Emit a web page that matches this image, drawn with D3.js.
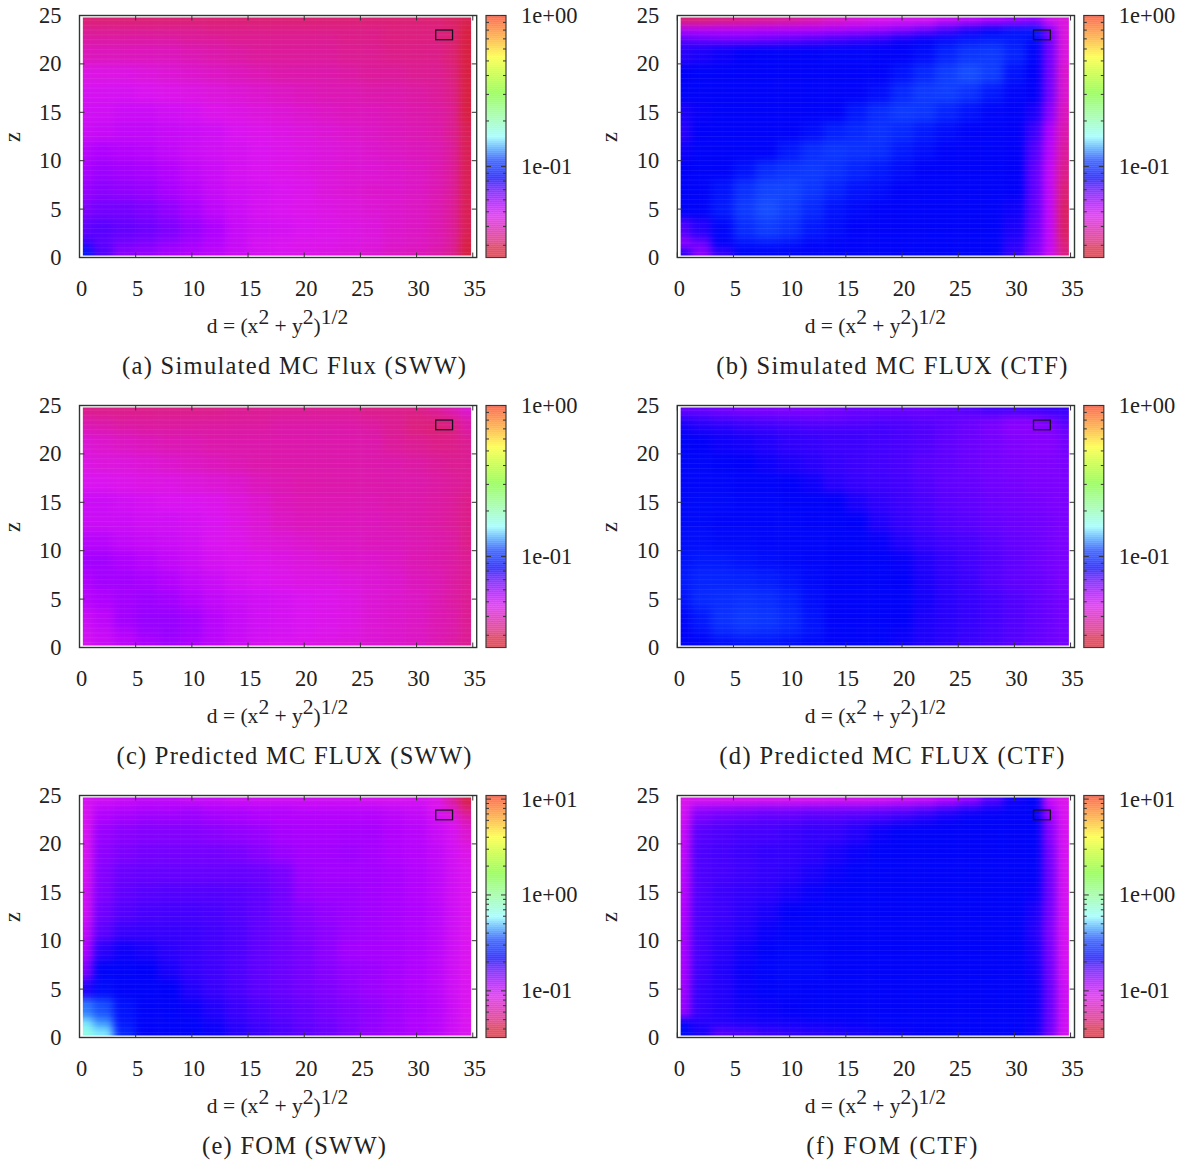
<!DOCTYPE html>
<html>
<head>
<meta charset="utf-8">
<script src="https://d3js.org/d3.v7.min.js"></script>
<style>
  html, body { margin: 0; background: #fff; }
  text { font-family: "Liberation Serif", serif; fill: #222; }
</style>
</head>
<body>
<div id="chart"></div>
<script>
// Cell edges shared by all panels, d goes left to right, z goes top to bottom
const dEdges = [0.3, 1.2, 3, 5, 7, 9, 11, 13, 15, 17, 19, 21, 23, 25, 27, 29, 31, 32.5, 33.8, 34.85];
const zEdges = [24.8, 24, 23, 22, 20, 18, 16, 14, 12, 10, 8, 6, 4, 2, 1, 0.2];

const fluxSimSww = [
  [32,32,32,32,32,32,32,32,32,32,32,32,32,32,32,32,32,31,30],
  [35,35,35,35,35,35,34,34,34,34,34,34,34,34,33,33,33,32,29],
  [37,37,37,37,37,36,36,35,35,35,35,35,34,34,33,33,33,32,29],
  [40,40,40,40,40,39,38,37,36,36,36,36,35,35,34,34,34,32,29],
  [45,45,45,44,43,42,41,40,39,38,38,38,37,36,36,35,35,33,29],
  [48,48,48,47,46,45,44,43,42,41,40,39,39,38,38,37,36,34,29],
  [49,49,50,50,49,48,46,45,44,43,42,41,40,40,39,38,37,35,29],
  [50,51,52,52,51,50,49,47,46,45,44,43,42,41,40,39,38,35,30],
  [54,56,55,54,52,50,49,48,47,46,45,44,43,42,41,40,39,36,30],
  [57,59,58,57,55,52,50,48,47,46,45,44,43,43,42,41,39,36,30],
  [60,62,61,60,57,54,51,49,48,47,46,44,43,42,42,41,39,36,30],
  [64,66,66,64,61,57,53,50,48,47,46,45,44,43,42,41,39,36,30],
  [70,71,69,67,64,60,56,51,49,48,47,46,45,44,42,41,39,36,30],
  [76,70,66,64,61,58,55,51,48,47,46,46,45,44,42,41,39,36,29],
  [92,72,62,60,57,55,53,50,48,47,46,45,44,43,41,40,38,35,29]
];
const fluxSimCtf = [
  [32,32,33,34,35,36,38,41,44,46,47,47,50,52,55,58,60,48,44],
  [55,55,55,55,56,56,56,57,58,60,63,68,74,80,85,90,92,64,44],
  [70,68,66,66,68,70,72,74,76,78,82,85,88,92,94,92,88,66,44],
  [78,80,82,84,85,85,85,86,86,85,85,88,96,104,106,96,86,66,44],
  [84,85,85,85,85,85,85,85,85,85,90,98,108,112,108,90,84,66,42],
  [85,85,85,85,85,85,85,85,85,88,98,106,108,102,92,86,84,66,42],
  [80,83,85,85,85,85,85,85,92,100,106,104,96,90,86,85,80,62,40],
  [78,84,85,85,85,85,88,94,98,102,98,92,88,85,85,84,75,56,38],
  [82,85,85,85,85,92,100,104,102,100,92,88,85,85,85,84,72,54,36],
  [84,85,85,90,100,104,106,102,96,92,88,85,85,85,85,84,70,52,34],
  [85,85,90,102,110,110,104,96,90,88,85,85,85,85,85,84,70,52,32],
  [85,85,92,106,112,108,98,90,87,85,85,85,85,85,85,82,70,52,31],
  [72,78,86,100,108,102,92,88,85,85,85,85,85,85,85,80,68,52,31],
  [60,68,84,90,92,90,86,85,85,85,85,85,85,85,85,78,66,52,32],
  [78,62,76,85,85,85,85,85,85,85,85,85,85,85,85,76,64,50,33]
];
const fluxPredSww = [
  [34,34,34,34,34,34,34,35,35,35,35,35,35,34,34,34,36,39,43],
  [38,37,36,36,36,36,36,36,36,37,37,37,37,36,35,33,33,34,38],
  [40,39,38,37,37,37,37,37,37,38,38,38,38,37,35,33,32,33,37],
  [43,42,41,40,39,39,38,38,38,38,38,38,38,38,36,35,34,34,35],
  [45,44,44,43,42,41,40,39,38,38,38,38,38,38,38,37,36,35,35],
  [47,47,46,45,45,44,43,42,40,39,38,38,38,38,38,38,37,36,35],
  [50,50,49,48,47,47,46,44,42,40,39,39,39,39,38,38,37,36,34],
  [50,50,50,49,49,48,47,45,43,41,40,40,40,40,39,38,37,36,34],
  [54,54,52,51,50,49,47,46,44,43,42,41,41,40,40,39,38,37,34],
  [58,58,56,54,52,50,48,47,46,45,44,43,42,42,41,39,38,37,35],
  [56,58,58,57,55,52,50,48,47,46,45,45,44,43,42,40,39,37,35],
  [54,56,58,59,58,55,52,50,49,48,47,46,45,43,42,41,39,37,35],
  [50,53,58,60,60,58,54,51,49,48,47,46,45,43,42,41,39,38,35],
  [49,51,55,59,60,58,54,51,49,48,47,46,45,43,42,41,39,38,35],
  [48,50,53,56,58,56,53,50,48,47,46,45,44,43,42,41,39,37,35]
];
const fluxPredCtf = [
  [68,68,66,64,64,64,64,66,68,68,68,68,70,72,74,74,75,76,76],
  [78,76,74,73,72,71,70,70,71,72,72,71,70,68,66,63,63,66,72],
  [82,80,79,77,76,75,74,74,74,74,73,72,70,68,65,62,62,63,68],
  [85,84,82,81,79,77,76,75,75,74,73,72,70,68,66,64,63,63,66],
  [86,86,85,84,82,80,78,76,75,74,73,71,70,68,66,65,64,64,65],
  [86,86,86,85,85,84,82,78,76,75,74,72,70,69,67,66,65,65,65],
  [87,87,87,86,86,85,85,84,80,77,75,73,71,70,68,67,66,65,65],
  [87,87,86,86,86,86,85,85,84,79,76,74,72,71,69,68,67,66,65],
  [88,88,87,87,86,86,86,85,85,83,79,76,74,73,71,69,68,66,65],
  [90,92,92,90,88,87,86,85,85,85,83,79,76,74,72,70,68,66,65],
  [92,96,96,95,93,90,87,85,85,85,84,80,77,75,72,70,69,67,65],
  [90,98,100,102,100,94,88,85,85,85,85,81,78,76,74,72,70,68,66],
  [86,92,102,106,104,98,90,85,85,85,84,80,78,76,74,72,70,68,66],
  [84,88,96,100,98,94,90,85,85,85,83,80,78,76,74,72,70,68,66],
  [85,85,88,90,90,88,86,85,85,85,82,79,77,75,73,71,69,67,66]
];
const fomSww = [
  [92,95,100,105,105,100,100,95,95,95,95,95,95,92,90,92,85,60,42],
  [90,112,116,120,120,125,118,118,114,114,110,110,110,110,106,102,90,76,50],
  [90,118,125,130,130,130,126,122,118,115,115,115,115,115,110,106,95,85,65],
  [90,130,138,142,142,142,138,134,130,122,120,120,122,122,115,110,100,92,75],
  [90,136,146,152,152,152,152,148,140,130,124,124,126,122,116,112,104,94,84],
  [92,142,158,162,162,162,162,162,158,148,128,124,124,124,120,114,106,95,88],
  [95,145,165,170,172,172,172,170,165,152,132,128,128,124,120,114,106,95,88],
  [95,155,172,178,180,180,178,172,165,152,140,132,128,124,120,116,108,96,88],
  [105,168,186,188,188,186,182,175,165,156,144,136,128,124,120,116,108,96,88],
  [118,195,212,205,195,188,182,175,165,156,148,136,124,122,120,116,108,96,88],
  [145,225,225,222,205,190,184,175,166,158,150,140,132,128,122,116,108,96,88],
  [200,235,225,225,222,200,188,178,168,160,152,145,136,128,122,116,108,96,88],
  [400,350,245,225,225,215,200,186,176,168,160,150,142,134,125,118,110,98,88],
  [560,430,250,225,225,225,212,195,184,175,165,156,144,134,125,116,110,98,88],
  [680,560,280,225,225,225,215,198,186,176,168,156,144,130,122,116,108,96,88]
];
const fomCtf = [
  [85,88,88,88,88,88,88,90,90,92,95,100,110,130,170,210,225,100,85],
  [92,135,140,145,150,150,155,155,155,160,165,175,190,205,215,225,225,120,88],
  [95,150,160,165,170,170,175,175,180,185,195,205,215,225,225,225,225,130,88],
  [100,170,175,180,180,185,190,190,200,215,225,225,225,225,225,225,225,140,90],
  [105,175,180,185,190,190,195,205,215,225,225,225,225,225,225,225,225,150,90],
  [108,175,180,185,190,195,205,215,225,225,225,225,225,225,225,225,225,155,90],
  [110,175,185,190,195,205,215,225,225,225,225,225,225,225,225,225,215,155,90],
  [115,178,185,195,205,220,225,225,225,225,225,225,225,225,225,225,205,150,90],
  [118,180,190,200,215,225,225,225,225,225,225,225,225,225,225,225,200,145,90],
  [120,180,195,210,225,230,230,225,225,225,225,225,225,225,225,225,205,150,90],
  [120,185,200,215,228,232,232,225,225,225,225,225,225,225,225,225,210,155,92],
  [125,190,200,215,225,228,225,225,225,225,225,225,225,225,225,225,215,160,95],
  [130,190,200,210,215,220,225,225,225,225,225,225,225,225,225,225,215,160,95],
  [225,200,200,205,210,212,215,218,220,225,225,225,225,225,225,225,215,160,95],
  [235,205,170,175,185,190,195,200,205,210,215,220,225,225,225,225,210,150,92]
];

const captions = [
  "(a) Simulated MC Flux (SWW)", "(b) Simulated MC FLUX (CTF)",
  "(c) Predicted MC FLUX (SWW)", "(d) Predicted MC FLUX (CTF)",
  "(e) FOM (SWW)", "(f) FOM (CTF)"
];
const captionWidths = [344, 351, 355, 345, 184, 171];
const grids = [fluxSimSww, fluxSimCtf, fluxPredSww, fluxPredCtf, fomSww, fomCtf];

const dTicks = [0, 5, 10, 15, 20, 25, 30, 35];
const zTicks = [0, 5, 10, 15, 20, 25];
const fluxRange = [0.0249, 1];     // colour range of panels a to d
const fomRange = [0.0326, 10.9];   // colour range of panels e and f
const fluxLabels = [1, 0.1];
const fomLabels = [10, 1, 0.1];
const markerBox = { d: [31.7, 33.2], z: [22.5, 23.5] };

// Palette stops, position along the colour bar and colour
const paletteStops = [0, 0.04, 0.07, 0.09, 0.125, 0.17, 0.22, 0.28, 0.33, 0.36, 0.40, 0.45, 0.5, 0.58, 0.68, 0.76, 0.83, 0.91, 1];
const paletteColors = ["#e02030", "#d82040", "#dc2078", "#dc1c90", "#dc16b8", "#dc14f0", "#b000ff", "#6000ff", "#0000fa",
  "#0420ff", "#1040ff", "#40a0ff", "#90ffff", "#90ffa0", "#80ff30", "#c0ff20", "#ffff20", "#ffa020", "#ff4020"];
const palette = d3.scaleLinear().domain(paletteStops).range(paletteColors);

const width = 1183, height = 1164;
const colOffset = 597.8, rowOffset = 390;
const plotW = 397.2, plotH = 242;

const svg = d3.select("#chart").append("svg")
    .attr("width", width)
    .attr("height", height)
    .style("display", "block");

const defs = svg.append("defs");
defs.append("filter")
    .attr("id", "soften")
    .attr("color-interpolation-filters", "sRGB")
    .append("feGaussianBlur")
    .attr("stdDeviation", 4);

function drawPanel(grid, i) {
    const col = i % 2, row = Math.floor(i / 2);
    const left = 79.5 + col * colOffset, top = 15.5 + row * rowOffset;
    const isFom = row === 2;
    const range = isFom ? fomRange : fluxRange;
    const barLabels = isFom ? fomLabels : fluxLabels;

    const g = svg.append("g").attr("transform", `translate(${left},${top})`);

    const x = d3.scaleLinear().domain([0, 35.35]).range([0, plotW]);
    const y = d3.scaleLinear().domain([0, 25]).range([plotH, 0]);
    const colorPos = d3.scaleLog().domain(range).range([0, 1]);

    // Heat cells, outer ones run past the clip so the blur does not fade the rim
    const clipId = `heat-clip-${i}`;
    defs.append("clipPath").attr("id", clipId).append("rect")
        .attr("x", x(dEdges[0]))
        .attr("y", y(zEdges[0]))
        .attr("width", x(dEdges[dEdges.length - 1]) - x(dEdges[0]))
        .attr("height", y(zEdges[zEdges.length - 1]) - y(zEdges[0]));

    const heat = g.append("g").attr("clip-path", `url(#${clipId})`);
    const cells = heat.append("g").attr("filter", "url(#soften)");
    const pad = 14;

    grid.forEach((values, r) => {
        values.forEach((v, c) => {
            const x0 = x(dEdges[c]) - (c === 0 ? pad : 0);
            const x1 = x(dEdges[c + 1]) + (c === values.length - 1 ? pad : 0);
            const y0 = y(zEdges[r]) - (r === 0 ? pad : 0);
            const y1 = y(zEdges[r + 1]) + (r === grid.length - 1 ? pad : 0);
            cells.append("rect")
                .attr("x", x0)
                .attr("y", y0)
                .attr("width", x1 - x0 + 0.5)
                .attr("height", y1 - y0 + 0.5)
                .attr("fill", palette(colorPos(v / 1000)));
        });
    });

    // Faint seams between the data rows and columns
    d3.range(0.5, 25, 0.5).forEach(z => {
        heat.append("line")
            .attr("x1", 0).attr("x2", plotW)
            .attr("y1", y(z)).attr("y2", y(z))
            .attr("stroke", "#fff")
            .attr("stroke-opacity", 0.07);
    });
    d3.range(1, 35, 1).forEach(d => {
        heat.append("line")
            .attr("x1", x(d)).attr("x2", x(d))
            .attr("y1", 0).attr("y2", plotH)
            .attr("stroke", "#fff")
            .attr("stroke-opacity", 0.02);
    });

    // Frame and inward ticks
    g.append("rect")
        .attr("width", plotW)
        .attr("height", plotH)
        .attr("fill", "none")
        .attr("stroke", "#2f3a36")
        .attr("stroke-width", 1.4);

    const tickStroke = "#33302f";
    dTicks.forEach(d => {
        g.append("line").attr("x1", x(d)).attr("x2", x(d)).attr("y1", plotH).attr("y2", plotH - 5).attr("stroke", tickStroke);
        g.append("line").attr("x1", x(d)).attr("x2", x(d)).attr("y1", 0).attr("y2", 5).attr("stroke", tickStroke);
        g.append("text")
            .attr("x", x(d) + 2)
            .attr("y", plotH + 38)
            .attr("text-anchor", "middle")
            .attr("font-size", 22.5)
            .text(d);
    });
    zTicks.forEach(z => {
        g.append("line").attr("x1", 0).attr("x2", 5).attr("y1", y(z)).attr("y2", y(z)).attr("stroke", tickStroke);
        g.append("line").attr("x1", plotW).attr("x2", plotW - 5).attr("y1", y(z)).attr("y2", y(z)).attr("stroke", tickStroke);
        g.append("text")
            .attr("x", -18)
            .attr("y", y(z) + 7.5)
            .attr("text-anchor", "end")
            .attr("font-size", 22.5)
            .text(z);
    });

    // Small marker box near the top right corner
    g.append("rect")
        .attr("x", x(markerBox.d[0]))
        .attr("y", y(markerBox.z[1]))
        .attr("width", x(markerBox.d[1]) - x(markerBox.d[0]))
        .attr("height", y(markerBox.z[0]) - y(markerBox.z[1]))
        .attr("fill", "none")
        .attr("stroke", "#151020")
        .attr("stroke-width", 1.3);

    // Axis titles
    const xTitle = g.append("text")
        .attr("x", 198)
        .attr("y", plotH + 75)
        .attr("text-anchor", "middle")
        .attr("font-size", 21.5);
    xTitle.append("tspan").text("d = (x");
    xTitle.append("tspan").attr("dy", -9).text("2");
    xTitle.append("tspan").attr("dy", 9).text(" + y");
    xTitle.append("tspan").attr("dy", -9).text("2");
    xTitle.append("tspan").attr("dy", 9).text(")");
    xTitle.append("tspan").attr("dy", -9).text("1/2");

    g.append("text")
        .attr("transform", `translate(-60,${plotH / 2 + 0.5}) rotate(-90)`)
        .attr("text-anchor", "middle")
        .attr("font-size", 22.5)
        .text("z");

    // Caption under the panel
    g.append("text")
        .attr("x", 214.5)
        .attr("y", plotH + 116)
        .attr("text-anchor", "middle")
        .attr("font-size", 24.5)
        .attr("textLength", captionWidths[i])
        .attr("lengthAdjust", "spacing")
        .text(captions[i]);

    // Colour bar
    const bar = g.append("g").attr("transform", `translate(${406.5},0)`);
    const barW = 20;
    const barY = d3.scaleLog().domain(range).range([plotH, 0]);
    const barSteps = d3.range(0, plotH, 2);
    bar.selectAll(".step")
        .data(barSteps)
        .enter().append("rect")
        .attr("class", "step")
        .attr("y", d => d)
        .attr("width", barW)
        .attr("height", 2.4)
        .attr("fill", d => palette(colorPos(barY.invert(d + 1))))
        .attr("fill-opacity", 0.7);
    bar.append("rect")
        .attr("width", barW)
        .attr("height", plotH)
        .attr("fill", "none")
        .attr("stroke", "#3c3c3c")
        .attr("stroke-width", 1.2);

    barY.ticks().forEach(v => {
        const major = barLabels.some(m => Math.abs(m - v) < 1e-9);
        const len = major ? 5 : 3;
        bar.append("line").attr("x1", 0).attr("x2", len).attr("y1", barY(v)).attr("y2", barY(v)).attr("stroke", "#333");
        bar.append("line").attr("x1", barW).attr("x2", barW - len).attr("y1", barY(v)).attr("y2", barY(v)).attr("stroke", "#333");
    });
    barLabels.forEach(v => {
        const exp = Math.round(Math.log10(v));
        const label = "1e" + (exp < 0 ? "-" : "+") + String(Math.abs(exp)).padStart(2, "0");
        bar.append("text")
            .attr("x", 35)
            .attr("y", Math.max(barY(v), 0) + 7.5)
            .attr("font-size", 22.5)
            .text(label);
    });
}

grids.forEach(drawPanel);
</script>
</body>
</html>
